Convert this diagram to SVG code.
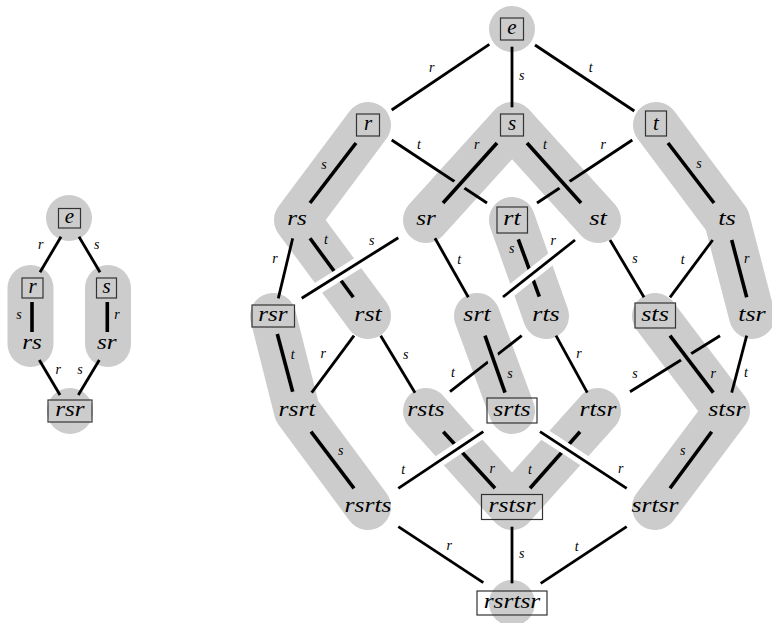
<svg xmlns="http://www.w3.org/2000/svg" width="772" height="623" viewBox="0 0 772 623">
<style>
.band{fill:none;stroke:#cccccc;stroke-width:46;stroke-linecap:round;stroke-linejoin:round}
.disc{fill:#cccccc}
.ln{stroke:#000;stroke-width:2.8;fill:none}
.bl{stroke:#000;stroke-width:3.6;fill:none}
.hw{stroke:#fff;stroke-width:12}
.hg{stroke:#cccccc;stroke-width:12}
.box{fill:none;stroke:#333;stroke-width:1.2}
.n{font-family:"Liberation Serif","Times New Roman",serif;font-style:italic;font-size:21px;text-anchor:middle;fill:#000}
.lb{font-family:"Liberation Serif","Times New Roman",serif;font-style:italic;font-size:14px;text-anchor:middle;fill:#000}
</style>
<rect width="772" height="623" fill="#fff"/>
<g id="highlights">
  <circle class="disc" cx="69" cy="218" r="23"/>
  <line class="band" x1="30.5" y1="288" x2="30.5" y2="344"/>
  <line class="band" x1="108" y1="288" x2="108" y2="344"/>
  <circle class="disc" cx="70" cy="411" r="23"/>
  <circle class="disc" cx="512" cy="29" r="23"/>
  <polyline class="band" points="368,125 297,220 368,316"/>
  <polyline class="band" points="426,220 512,125 598,220"/>
  <polyline class="band" points="656,125 727,220 752,316"/>
  <line class="band" x1="512" y1="220" x2="546" y2="316"/>
  <polyline class="band" points="273,316 297,411 368,507"/>
  <line class="band" x1="477" y1="316" x2="512" y2="411"/>
  <polyline class="band" points="426,411 512,507 598,411"/>
  <polyline class="band" points="655,316 727,411 655,507"/>
  <circle class="disc" cx="512" cy="603" r="23"/>
</g>
<g id="connectors">
  <line class="ln" x1="61" y1="236.7" x2="40" y2="272.3"/>
  <line class="ln" x1="79" y1="236.7" x2="100" y2="272.3"/>
  <line class="bl" x1="32" y1="302" x2="32" y2="332"/>
  <line class="bl" x1="107.3" y1="302" x2="107.3" y2="332"/>
  <line class="ln" x1="39.3" y1="360" x2="60" y2="395"/>
  <line class="ln" x1="99.3" y1="360" x2="78.3" y2="395"/>
  <line class="ln" x1="391.7" y1="110" x2="489.3" y2="44.3"/>
  <line class="ln" x1="512" y1="46.7" x2="512" y2="107.3"/>
  <line class="ln" x1="535" y1="45" x2="634.3" y2="111"/>
  <line class="bl" x1="356" y1="143" x2="310" y2="203"/>
  <line class="ln" x1="391.7" y1="140" x2="487" y2="203"/>
  <line class="ln" x1="632.3" y1="140" x2="537" y2="203"/>
  <line class="bl" x1="668" y1="143" x2="714" y2="203"/>
  <line class="ln" x1="292.7" y1="238.3" x2="278.3" y2="298.3"/>
  <line class="bl" x1="310" y1="238.3" x2="353.3" y2="297.3"/>
  <line class="ln" x1="435" y1="238.3" x2="468.3" y2="297.3"/>
  <line class="bl" x1="518.3" y1="239.3" x2="539.3" y2="296.7"/>
  <line class="ln" x1="610" y1="240" x2="644" y2="297.3"/>
  <line class="ln" x1="712.7" y1="240" x2="670" y2="297.3"/>
  <line class="bl" x1="731.7" y1="240" x2="746.7" y2="297.3"/>
  <line class="bl" x1="277.3" y1="334" x2="292.7" y2="391.7"/>
  <line class="ln" x1="354" y1="335.7" x2="311.7" y2="392.7"/>
  <line class="ln" x1="380.7" y1="335.7" x2="415" y2="392.7"/>
  <line class="ln" x1="521.7" y1="335.7" x2="450" y2="391.7"/>
  <line class="ln" x1="556" y1="335.7" x2="587.3" y2="392.7"/>
  <line class="ln" x1="720" y1="335.7" x2="630" y2="391.7"/>
  <line class="ln" x1="746.7" y1="335.7" x2="731.7" y2="392.7"/>
  <line class="bl" x1="311" y1="431.7" x2="354" y2="488.3"/>
  <line class="bl" x1="443.3" y1="431.7" x2="495" y2="488.3"/>
  <line class="bl" x1="580" y1="431.7" x2="530" y2="488.3"/>
  <line class="bl" x1="711.7" y1="431.7" x2="670" y2="488.3"/>
  <line class="ln" x1="398.3" y1="526.7" x2="483.3" y2="582.7"/>
  <line class="ln" x1="512" y1="526.7" x2="512" y2="583.3"/>
  <line class="ln" x1="626.7" y1="526.7" x2="540.7" y2="583.3"/>
  <line class="hg" x1="497" y1="143" x2="443" y2="203"/>
  <line class="bl" x1="497" y1="143" x2="443" y2="203"/>
  <line class="hg" x1="527" y1="143" x2="581" y2="203"/>
  <line class="bl" x1="527" y1="143" x2="581" y2="203"/>
  <line class="hg" x1="485" y1="335.7" x2="505" y2="392.7"/>
  <line class="bl" x1="485" y1="335.7" x2="505" y2="392.7"/>
  <line class="hg" x1="670" y1="335.7" x2="713.3" y2="392.7"/>
  <line class="bl" x1="670" y1="335.7" x2="713.3" y2="392.7"/>
  <line class="hw" x1="398.3" y1="237.7" x2="301.7" y2="298.3"/>
  <line class="ln" x1="398.3" y1="237.7" x2="301.7" y2="298.3"/>
  <line class="hw" x1="575" y1="240" x2="503" y2="297"/>
  <line class="ln" x1="575" y1="240" x2="503" y2="297"/>
  <line class="hw" x1="483.3" y1="431.7" x2="398.3" y2="488.3"/>
  <line class="ln" x1="483.3" y1="431.7" x2="398.3" y2="488.3"/>
  <line class="hw" x1="540" y1="431.7" x2="626.7" y2="488.3"/>
  <line class="ln" x1="540" y1="431.7" x2="626.7" y2="488.3"/>
  <g class="lbls">
    <text class="lb" x="40.7" y="249">r</text>
    <text class="lb" x="96.7" y="249">s</text>
    <text class="lb" x="19" y="319">s</text>
    <text class="lb" x="117" y="319">r</text>
    <text class="lb" x="58.3" y="374">r</text>
    <text class="lb" x="80" y="374">s</text>
    <text class="lb" x="431.7" y="72">r</text>
    <text class="lb" x="521.7" y="80">s</text>
    <text class="lb" x="590.7" y="72">t</text>
    <text class="lb" x="324" y="169">s</text>
    <text class="lb" x="419" y="149">t</text>
    <text class="lb" x="476.7" y="149">r</text>
    <text class="lb" x="545" y="149">t</text>
    <text class="lb" x="603.3" y="149">r</text>
    <text class="lb" x="699" y="168">s</text>
    <text class="lb" x="275" y="263">r</text>
    <text class="lb" x="326" y="244">t</text>
    <text class="lb" x="371.7" y="245">s</text>
    <text class="lb" x="459.3" y="264">t</text>
    <text class="lb" x="511.7" y="253">s</text>
    <text class="lb" x="553.3" y="245">r</text>
    <text class="lb" x="635" y="263">s</text>
    <text class="lb" x="682.7" y="264">t</text>
    <text class="lb" x="746.7" y="263">r</text>
    <text class="lb" x="292.7" y="359">t</text>
    <text class="lb" x="323.3" y="358">r</text>
    <text class="lb" x="405.7" y="359">s</text>
    <text class="lb" x="510" y="378">s</text>
    <text class="lb" x="453" y="377">t</text>
    <text class="lb" x="579" y="358">r</text>
    <text class="lb" x="713.3" y="378">r</text>
    <text class="lb" x="635" y="378">s</text>
    <text class="lb" x="746" y="377">t</text>
    <text class="lb" x="340.7" y="455">s</text>
    <text class="lb" x="403.3" y="474">t</text>
    <text class="lb" x="492.3" y="473">r</text>
    <text class="lb" x="530" y="474">t</text>
    <text class="lb" x="620.7" y="473">r</text>
    <text class="lb" x="682.7" y="455">s</text>
    <text class="lb" x="449.3" y="550">r</text>
    <text class="lb" x="521.7" y="558">s</text>
    <text class="lb" x="576.7" y="551">t</text>
  </g>
</g>
<g id="L-e"><rect class="box" x="58.5" y="208.5" width="22" height="19.5"/><text class="n" x="69.5" y="223">e</text></g>
<g id="L-r"><rect class="box" x="22" y="278" width="21" height="20"/><text class="n" x="32.5" y="293">r</text></g>
<g id="L-s"><rect class="box" x="96.5" y="278" width="20" height="20"/><text class="n" x="106.5" y="293">s</text></g>
<g id="L-rs"><text class="n" x="32" y="349" textLength="19.6" lengthAdjust="spacingAndGlyphs">rs</text></g>
<g id="L-sr"><text class="n" x="106.7" y="349" textLength="19.6" lengthAdjust="spacingAndGlyphs">sr</text></g>
<g id="L-rsr"><rect class="box" x="48" y="400" width="44" height="22"/><text class="n" x="70" y="416" textLength="29.3" lengthAdjust="spacingAndGlyphs">rsr</text></g>
<g id="e"><rect class="box" x="500.5" y="18" width="23" height="22"/><text class="n" x="512" y="34">e</text></g>
<g id="r"><rect class="box" x="356.5" y="114" width="23" height="22"/><text class="n" x="368" y="130">r</text></g>
<g id="s"><rect class="box" x="500.5" y="114" width="23" height="22"/><text class="n" x="512" y="130">s</text></g>
<g id="t"><rect class="box" x="645.5" y="111" width="21" height="25"/><text class="n" x="656" y="130">t</text></g>
<g id="rs"><text class="n" x="297" y="225" textLength="19.6" lengthAdjust="spacingAndGlyphs">rs</text></g>
<g id="sr"><text class="n" x="426" y="225" textLength="19.6" lengthAdjust="spacingAndGlyphs">sr</text></g>
<g id="rt"><rect class="box" x="497" y="207" width="30.5" height="26"/><text class="n" x="512" y="225" textLength="17.4" lengthAdjust="spacingAndGlyphs">rt</text></g>
<g id="st"><text class="n" x="598" y="225" textLength="17.7" lengthAdjust="spacingAndGlyphs">st</text></g>
<g id="ts"><text class="n" x="727" y="225" textLength="17.7" lengthAdjust="spacingAndGlyphs">ts</text></g>
<g id="rsr"><rect class="box" x="252" y="305" width="42.5" height="22"/><text class="n" x="273" y="321" textLength="29.3" lengthAdjust="spacingAndGlyphs">rsr</text></g>
<g id="rst"><text class="n" x="368" y="321" textLength="27.4" lengthAdjust="spacingAndGlyphs">rst</text></g>
<g id="srt"><text class="n" x="477" y="321" textLength="27.4" lengthAdjust="spacingAndGlyphs">srt</text></g>
<g id="rts"><text class="n" x="546" y="321" textLength="27.4" lengthAdjust="spacingAndGlyphs">rts</text></g>
<g id="sts"><rect class="box" x="635" y="303" width="40.5" height="25"/><text class="n" x="655" y="321" textLength="27.7" lengthAdjust="spacingAndGlyphs">sts</text></g>
<g id="tsr"><text class="n" x="752" y="321" textLength="27.4" lengthAdjust="spacingAndGlyphs">tsr</text></g>
<g id="rsrt"><text class="n" x="297" y="416" textLength="37" lengthAdjust="spacingAndGlyphs">rsrt</text></g>
<g id="rsts"><text class="n" x="426" y="416" textLength="37.4" lengthAdjust="spacingAndGlyphs">rsts</text></g>
<g id="srts"><rect class="box" x="487" y="398" width="50" height="25"/><text class="n" x="512" y="416" textLength="37.4" lengthAdjust="spacingAndGlyphs">srts</text></g>
<g id="rtsr"><text class="n" x="598" y="416" textLength="37" lengthAdjust="spacingAndGlyphs">rtsr</text></g>
<g id="stsr"><text class="n" x="727" y="416" textLength="37.4" lengthAdjust="spacingAndGlyphs">stsr</text></g>
<g id="rsrts"><text class="n" x="368" y="512" textLength="47" lengthAdjust="spacingAndGlyphs">rsrts</text></g>
<g id="rstsr"><rect class="box" x="481.5" y="494.5" width="61" height="25"/><text class="n" x="512" y="512" textLength="47" lengthAdjust="spacingAndGlyphs">rstsr</text></g>
<g id="srtsr"><text class="n" x="655" y="512" textLength="47" lengthAdjust="spacingAndGlyphs">srtsr</text></g>
<g id="rsrtsr"><rect class="box" x="477" y="591" width="70" height="24"/><text class="n" x="512" y="608" textLength="56.6" lengthAdjust="spacingAndGlyphs">rsrtsr</text></g>
</svg>
